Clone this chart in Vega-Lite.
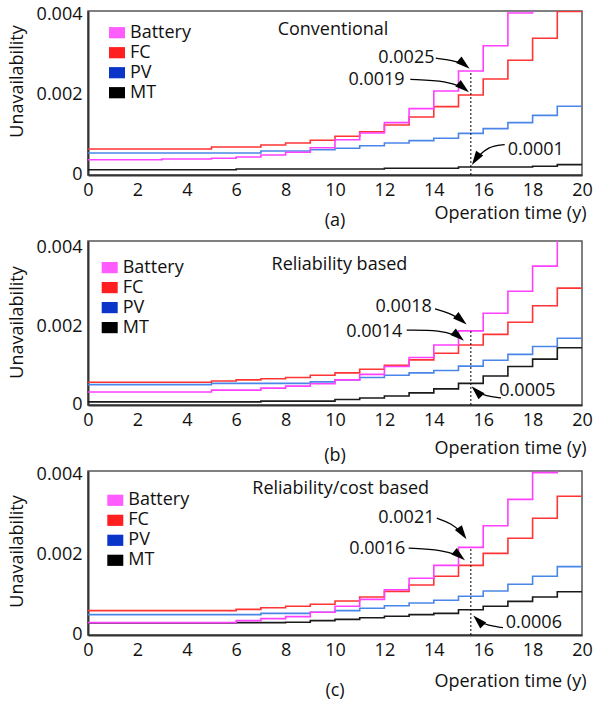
{
"$schema":"https://vega.github.io/schema/vega-lite/v6.json",
"padding":{"left":7,"top":4,"right":0,"bottom":0},
"background":"white",
"datasets":{
"series":[
{"p":"a","s":"MT","t":0,"u":0.00003},{"p":"a","s":"MT","t":6,"u":0.00005},{"p":"a","s":"MT","t":12,"u":0.00007},{"p":"a","s":"MT","t":15,"u":0.0001},{"p":"a","s":"MT","t":18,"u":0.00012},{"p":"a","s":"MT","t":19,"u":0.00016},{"p":"a","s":"MT","t":20,"u":0.00016},
{"p":"a","s":"PV","t":0,"u":0.00045},{"p":"a","s":"PV","t":7,"u":0.0005},{"p":"a","s":"PV","t":9,"u":0.00053},{"p":"a","s":"PV","t":10,"u":0.00057},{"p":"a","s":"PV","t":11,"u":0.00063},{"p":"a","s":"PV","t":12,"u":0.0007},{"p":"a","s":"PV","t":13,"u":0.00076},{"p":"a","s":"PV","t":14,"u":0.00082},{"p":"a","s":"PV","t":15,"u":0.00094},{"p":"a","s":"PV","t":16,"u":0.00106},{"p":"a","s":"PV","t":17,"u":0.00121},{"p":"a","s":"PV","t":18,"u":0.00139},{"p":"a","s":"PV","t":19,"u":0.00162},{"p":"a","s":"PV","t":20,"u":0.00162},
{"p":"a","s":"FC","t":0,"u":0.00055},{"p":"a","s":"FC","t":5,"u":0.0006},{"p":"a","s":"FC","t":7,"u":0.00065},{"p":"a","s":"FC","t":8,"u":0.0007},{"p":"a","s":"FC","t":9,"u":0.00077},{"p":"a","s":"FC","t":10,"u":0.00087},{"p":"a","s":"FC","t":11,"u":0.00098},{"p":"a","s":"FC","t":12,"u":0.00115},{"p":"a","s":"FC","t":13,"u":0.00135},{"p":"a","s":"FC","t":14,"u":0.00161},{"p":"a","s":"FC","t":15,"u":0.0019},{"p":"a","s":"FC","t":16,"u":0.0023},{"p":"a","s":"FC","t":17,"u":0.00277},{"p":"a","s":"FC","t":18,"u":0.00332},{"p":"a","s":"FC","t":19,"u":0.00399},{"p":"a","s":"FC","t":20,"u":0.00399},
{"p":"a","s":"Battery","t":0,"u":0.00028},{"p":"a","s":"Battery","t":3,"u":0.0003},{"p":"a","s":"Battery","t":5,"u":0.00032},{"p":"a","s":"Battery","t":6,"u":0.00035},{"p":"a","s":"Battery","t":7,"u":0.0004},{"p":"a","s":"Battery","t":8,"u":0.00047},{"p":"a","s":"Battery","t":9,"u":0.00058},{"p":"a","s":"Battery","t":10,"u":0.00078},{"p":"a","s":"Battery","t":11,"u":0.00095},{"p":"a","s":"Battery","t":12,"u":0.00121},{"p":"a","s":"Battery","t":13,"u":0.00156},{"p":"a","s":"Battery","t":14,"u":0.002},{"p":"a","s":"Battery","t":15,"u":0.0025},{"p":"a","s":"Battery","t":16,"u":0.00313},{"p":"a","s":"Battery","t":17,"u":0.00395},{"p":"a","s":"Battery","t":18,"u":0.0048},{"p":"a","s":"Battery","t":19,"u":0.0058},{"p":"a","s":"Battery","t":20,"u":0.0058},
{"p":"b","s":"MT","t":0,"u":0.0},{"p":"b","s":"MT","t":7,"u":0.00002},{"p":"b","s":"MT","t":10,"u":0.00006},{"p":"b","s":"MT","t":11,"u":0.0001},{"p":"b","s":"MT","t":12,"u":0.00015},{"p":"b","s":"MT","t":13,"u":0.00023},{"p":"b","s":"MT","t":14,"u":0.00033},{"p":"b","s":"MT","t":15,"u":0.00047},{"p":"b","s":"MT","t":16,"u":0.00066},{"p":"b","s":"MT","t":17,"u":0.0009},{"p":"b","s":"MT","t":18,"u":0.00109},{"p":"b","s":"MT","t":19,"u":0.00138},{"p":"b","s":"MT","t":20,"u":0.00138},
{"p":"b","s":"PV","t":0,"u":0.00044},{"p":"b","s":"PV","t":5,"u":0.00047},{"p":"b","s":"PV","t":9,"u":0.00051},{"p":"b","s":"PV","t":10,"u":0.00056},{"p":"b","s":"PV","t":11,"u":0.00062},{"p":"b","s":"PV","t":12,"u":0.00068},{"p":"b","s":"PV","t":13,"u":0.00074},{"p":"b","s":"PV","t":14,"u":0.0008},{"p":"b","s":"PV","t":15,"u":0.00091},{"p":"b","s":"PV","t":16,"u":0.00106},{"p":"b","s":"PV","t":17,"u":0.00121},{"p":"b","s":"PV","t":18,"u":0.00141},{"p":"b","s":"PV","t":19,"u":0.00162},{"p":"b","s":"PV","t":20,"u":0.00162},
{"p":"b","s":"FC","t":0,"u":0.0005},{"p":"b","s":"FC","t":5,"u":0.00053},{"p":"b","s":"FC","t":6,"u":0.00056},{"p":"b","s":"FC","t":7,"u":0.00059},{"p":"b","s":"FC","t":8,"u":0.00062},{"p":"b","s":"FC","t":9,"u":0.00068},{"p":"b","s":"FC","t":10,"u":0.00074},{"p":"b","s":"FC","t":11,"u":0.00083},{"p":"b","s":"FC","t":12,"u":0.00093},{"p":"b","s":"FC","t":13,"u":0.00107},{"p":"b","s":"FC","t":14,"u":0.00124},{"p":"b","s":"FC","t":15,"u":0.00145},{"p":"b","s":"FC","t":16,"u":0.00172},{"p":"b","s":"FC","t":17,"u":0.00203},{"p":"b","s":"FC","t":18,"u":0.00245},{"p":"b","s":"FC","t":19,"u":0.0029},{"p":"b","s":"FC","t":20,"u":0.0029},
{"p":"b","s":"Battery","t":0,"u":0.00025},{"p":"b","s":"Battery","t":5,"u":0.0003},{"p":"b","s":"Battery","t":7,"u":0.00035},{"p":"b","s":"Battery","t":8,"u":0.0004},{"p":"b","s":"Battery","t":9,"u":0.00046},{"p":"b","s":"Battery","t":10,"u":0.00056},{"p":"b","s":"Battery","t":11,"u":0.0007},{"p":"b","s":"Battery","t":12,"u":0.0009},{"p":"b","s":"Battery","t":13,"u":0.00113},{"p":"b","s":"Battery","t":14,"u":0.00145},{"p":"b","s":"Battery","t":15,"u":0.00181},{"p":"b","s":"Battery","t":16,"u":0.00226},{"p":"b","s":"Battery","t":17,"u":0.00282},{"p":"b","s":"Battery","t":18,"u":0.00346},{"p":"b","s":"Battery","t":19,"u":0.0045},{"p":"b","s":"Battery","t":20,"u":0.0045},
{"p":"c","s":"MT","t":0,"u":0.0002},{"p":"c","s":"MT","t":6,"u":0.00021},{"p":"c","s":"MT","t":8,"u":0.00022},{"p":"c","s":"MT","t":9,"u":0.00026},{"p":"c","s":"MT","t":10,"u":0.00029},{"p":"c","s":"MT","t":11,"u":0.00033},{"p":"c","s":"MT","t":12,"u":0.00037},{"p":"c","s":"MT","t":13,"u":0.00041},{"p":"c","s":"MT","t":14,"u":0.00044},{"p":"c","s":"MT","t":15,"u":0.00053},{"p":"c","s":"MT","t":16,"u":0.00062},{"p":"c","s":"MT","t":17,"u":0.00074},{"p":"c","s":"MT","t":18,"u":0.00085},{"p":"c","s":"MT","t":19,"u":0.00098},{"p":"c","s":"MT","t":20,"u":0.00098},
{"p":"c","s":"PV","t":0,"u":0.00041},{"p":"c","s":"PV","t":7,"u":0.00044},{"p":"c","s":"PV","t":9,"u":0.00047},{"p":"c","s":"PV","t":10,"u":0.00051},{"p":"c","s":"PV","t":11,"u":0.00057},{"p":"c","s":"PV","t":12,"u":0.00063},{"p":"c","s":"PV","t":13,"u":0.0007},{"p":"c","s":"PV","t":14,"u":0.00077},{"p":"c","s":"PV","t":15,"u":0.00087},{"p":"c","s":"PV","t":16,"u":0.001},{"p":"c","s":"PV","t":17,"u":0.00117},{"p":"c","s":"PV","t":18,"u":0.00137},{"p":"c","s":"PV","t":19,"u":0.00161},{"p":"c","s":"PV","t":20,"u":0.00161},
{"p":"c","s":"FC","t":0,"u":0.00051},{"p":"c","s":"FC","t":6,"u":0.00054},{"p":"c","s":"FC","t":7,"u":0.00058},{"p":"c","s":"FC","t":8,"u":0.00062},{"p":"c","s":"FC","t":9,"u":0.00067},{"p":"c","s":"FC","t":10,"u":0.00075},{"p":"c","s":"FC","t":11,"u":0.00085},{"p":"c","s":"FC","t":12,"u":0.00099},{"p":"c","s":"FC","t":13,"u":0.00115},{"p":"c","s":"FC","t":14,"u":0.00137},{"p":"c","s":"FC","t":15,"u":0.00164},{"p":"c","s":"FC","t":16,"u":0.00194},{"p":"c","s":"FC","t":17,"u":0.00232},{"p":"c","s":"FC","t":18,"u":0.00282},{"p":"c","s":"FC","t":19,"u":0.00337},{"p":"c","s":"FC","t":20,"u":0.00337},
{"p":"c","s":"Battery","t":0,"u":0.00021},{"p":"c","s":"Battery","t":6,"u":0.00026},{"p":"c","s":"Battery","t":7,"u":0.00031},{"p":"c","s":"Battery","t":8,"u":0.00036},{"p":"c","s":"Battery","t":9,"u":0.00047},{"p":"c","s":"Battery","t":10,"u":0.00062},{"p":"c","s":"Battery","t":11,"u":0.00079},{"p":"c","s":"Battery","t":12,"u":0.00103},{"p":"c","s":"Battery","t":13,"u":0.00132},{"p":"c","s":"Battery","t":14,"u":0.00164},{"p":"c","s":"Battery","t":15,"u":0.00209},{"p":"c","s":"Battery","t":16,"u":0.00263},{"p":"c","s":"Battery","t":17,"u":0.00329},{"p":"c","s":"Battery","t":18,"u":0.00396},{"p":"c","s":"Battery","t":19,"u":0.0048},{"p":"c","s":"Battery","t":20,"u":0.0048}
],
"guides":[
{"p":"a","t":15.5,"u":-0.0001,"u1":0.0025},
{"p":"b","t":15.5,"u":-0.00008,"u1":0.00181},
{"p":"c","t":15.5,"u":-0.0001,"u1":0.00209}
],
"arrows":[
{"p":"a","id":"a1","o":1,"t":14.08,"u":0.00282},{"p":"a","id":"a1","o":2,"t":14.76,"u":0.00277},{"p":"a","id":"a1","o":3,"t":15.23,"u":0.00267},
{"p":"a","id":"a2","o":1,"t":13.05,"u":0.00229},{"p":"a","id":"a2","o":2,"t":14.56,"u":0.00225},{"p":"a","id":"a2","o":3,"t":15.2,"u":0.00208},
{"p":"a","id":"a3","o":1,"t":16.87,"u":0.00066},{"p":"a","id":"a3","o":2,"t":16.2,"u":0.00062},{"p":"a","id":"a3","o":3,"t":15.7,"u":0.0003},
{"p":"b","id":"b1","o":1,"t":14.05,"u":0.00237},{"p":"b","id":"b1","o":2,"t":14.66,"u":0.00226},{"p":"b","id":"b1","o":3,"t":15.11,"u":0.00209},
{"p":"b","id":"b2","o":1,"t":12.9,"u":0.00183},{"p":"b","id":"b2","o":2,"t":14.27,"u":0.00183},{"p":"b","id":"b2","o":3,"t":15.0,"u":0.00167},
{"p":"b","id":"b3","o":1,"t":16.72,"u":0.0001},{"p":"b","id":"b3","o":2,"t":16.1,"u":0.00015},{"p":"b","id":"b3","o":3,"t":15.73,"u":0.00027},
{"p":"c","id":"c1","o":1,"t":14.12,"u":0.00282},{"p":"c","id":"c1","o":2,"t":14.73,"u":0.00269},{"p":"c","id":"c1","o":3,"t":15.16,"u":0.00244},
{"p":"c","id":"c2","o":1,"t":12.98,"u":0.00207},{"p":"c","id":"c2","o":2,"t":14.35,"u":0.00203},{"p":"c","id":"c2","o":3,"t":15.04,"u":0.00188},
{"p":"c","id":"c3","o":1,"t":16.8,"u":0.000085},{"p":"c","id":"c3","o":2,"t":16.18,"u":0.00013},{"p":"c","id":"c3","o":3,"t":15.8,"u":0.00026}
],
"notes":[
{"p":"a","label":"Conventional","t":9.92,"u":0.00352},
{"p":"a","label":"0.0025","t":12.89,"u":0.00283},
{"p":"a","label":"0.0019","t":11.68,"u":0.00227},
{"p":"a","label":"0.0001","t":18.13,"u":0.00052},
{"p":"b","label":"Reliability based","t":10.18,"u":0.00348},
{"p":"b","label":"0.0018","t":12.78,"u":0.00241},
{"p":"b","label":"0.0014","t":11.59,"u":0.00177},
{"p":"b","label":"0.0005","t":17.79,"u":0.00027},
{"p":"c","label":"Reliability/cost based","t":10.23,"u":0.00355},
{"p":"c","label":"0.0021","t":12.89,"u":0.00282},
{"p":"c","label":"0.0016","t":11.71,"u":0.00205},
{"p":"c","label":"0.0006","t":18.05,"u":0.00021}
]
},
"vconcat":[
{"width":494,"height":164,
"title":{"text":"(a)","orient":"bottom","anchor":"middle","offset":-10},
"encoding":{
"x":{"field":"t","type":"quantitative","scale":{"domain":[0,20],"nice":false,"zero":false},"axis":{"values":[0,2,4,6,8,10,12,14,16,18,20],"title":"Operation time (y)","titleX":498,"titleY":38,"titleAlign":"right","titleBaseline":"middle"}},
"y":{"field":"u","type":"quantitative","scale":{"domain":[-0.0001,0.004],"nice":false,"zero":false},"axis":{"values":[0,0.002,0.004],"labelExpr":"datum.value === 0 ? '0' : format(datum.value, '.3f')","title":"Unavailability","titleX":-71,"titleY":70,"titleAlign":"center","titleBaseline":"middle"}}
},
"layer":[
{"data":{"name":"series"},"transform":[{"filter":"datum.p==='a'"}],
"mark":{"type":"line","interpolate":"step-after","clip":true,"strokeWidth":1.6},
"encoding":{
"color":{"field":"s","type":"nominal","scale":{"domain":["Battery","FC","PV","MT"],"range":["#ff40ff","#ff3535","#4a86e8","#1a1a1a"]},
"legend":{"orient":"none","legendX":20,"legendY":12.7,"title":null,"symbolType":"M-1,-0.7H1V0.7H-1Z","symbolSize":256,"encode":{"symbols":{"update":{"fill":{"signal":"datum.value === 'Battery' ? '#ff5cff' : datum.value === 'FC' ? '#ff1f1f' : datum.value === 'PV' ? '#0a35c8' : '#000000'"},"strokeWidth":{"value":0},"opacity":{"value":1}}}}}}
}},
{"data":{"name":"guides"},"transform":[{"filter":"datum.p==='a'"}],"mark":{"type":"rule","strokeDash":[2,2],"strokeWidth":1,"color":"#000"},
"encoding":{"y2":{"field":"u1"}}},
{"data":{"name":"arrows"},"transform":[{"filter":"datum.p==='a'"}],"mark":{"type":"line","interpolate":"basis","color":"#000","strokeWidth":1.3},
"encoding":{"detail":{"field":"id"},"order":{"field":"o"}}},
{"data":{"name":"arrows"},"transform":[{"filter":"datum.p==='a' && datum.o===3"}],"mark":{"type":"point","filled":true,"color":"#000","size":200,"opacity":1,"strokeWidth":0},
"encoding":{"shape":{"field":"id","type":"nominal","legend":null,"scale":{"domain":["a1","a2","a3","b1","b2","b3","c1","c2","c3"],"range":["M0.77,0.64L-1.15,-0.18L-0.38,-1.1Z","M0.77,0.64L-1.15,-0.18L-0.38,-1.1Z","M-0.55,0.84L0.04,-1.17L1.05,-0.51Z","M0.77,0.64L-1.15,-0.18L-0.38,-1.1Z","M0.77,0.64L-1.15,-0.18L-0.38,-1.1Z","M-0.71,-0.71L1.13,0.28L0.28,1.13Z","M0.57,0.82L-1.07,-0.48L-0.08,-1.16Z","M0.77,0.64L-1.15,-0.18L-0.38,-1.1Z","M-0.71,-0.71L1.13,0.28L0.28,1.13Z"]}}}},
{"data":{"name":"notes"},"transform":[{"filter":"datum.p==='a'"}],"mark":{"type":"text","fontSize":18,"align":"center","baseline":"middle","color":"#111"},
"encoding":{"text":{"field":"label"}}}
]},
{"width":494,"height":164,
"title":{"text":"(b)","orient":"bottom","anchor":"middle","offset":-10},
"encoding":{
"x":{"field":"t","type":"quantitative","scale":{"domain":[0,20],"nice":false,"zero":false},"axis":{"values":[0,2,4,6,8,10,12,14,16,18,20],"title":"Operation time (y)","titleX":498,"titleY":43,"titleAlign":"right","titleBaseline":"middle"}},
"y":{"field":"u","type":"quantitative","scale":{"domain":[-0.00008,0.0041],"nice":false,"zero":false},"axis":{"values":[0,0.002,0.004],"labelExpr":"datum.value === 0 ? '0' : format(datum.value, '.3f')","title":"Unavailability","titleX":-71,"titleY":81,"titleAlign":"center","titleBaseline":"middle"}}
},
"layer":[
{"data":{"name":"series"},"transform":[{"filter":"datum.p==='b'"}],
"mark":{"type":"line","interpolate":"step-after","clip":true,"strokeWidth":1.6},
"encoding":{
"color":{"field":"s","type":"nominal","scale":{"domain":["Battery","FC","PV","MT"],"range":["#ff40ff","#ff3535","#4a86e8","#1a1a1a"]},
"legend":{"orient":"none","legendX":12.7,"legendY":17.6,"title":null,"symbolType":"M-1,-0.7H1V0.7H-1Z","symbolSize":256,"encode":{"symbols":{"update":{"fill":{"signal":"datum.value === 'Battery' ? '#ff5cff' : datum.value === 'FC' ? '#ff1f1f' : datum.value === 'PV' ? '#0a35c8' : '#000000'"},"strokeWidth":{"value":0},"opacity":{"value":1}}}}}}
}},
{"data":{"name":"guides"},"transform":[{"filter":"datum.p==='b'"}],"mark":{"type":"rule","strokeDash":[2,2],"strokeWidth":1,"color":"#000"},
"encoding":{"y2":{"field":"u1"}}},
{"data":{"name":"arrows"},"transform":[{"filter":"datum.p==='b'"}],"mark":{"type":"line","interpolate":"basis","color":"#000","strokeWidth":1.3},
"encoding":{"detail":{"field":"id"},"order":{"field":"o"}}},
{"data":{"name":"arrows"},"transform":[{"filter":"datum.p==='b' && datum.o===3"}],"mark":{"type":"point","filled":true,"color":"#000","size":200,"opacity":1,"strokeWidth":0},
"encoding":{"shape":{"field":"id","type":"nominal","legend":null,"scale":{"domain":["a1","a2","a3","b1","b2","b3","c1","c2","c3"],"range":["M0.77,0.64L-1.15,-0.18L-0.38,-1.1Z","M0.77,0.64L-1.15,-0.18L-0.38,-1.1Z","M-0.55,0.84L0.04,-1.17L1.05,-0.51Z","M0.77,0.64L-1.15,-0.18L-0.38,-1.1Z","M0.77,0.64L-1.15,-0.18L-0.38,-1.1Z","M-0.71,-0.71L1.13,0.28L0.28,1.13Z","M0.57,0.82L-1.07,-0.48L-0.08,-1.16Z","M0.77,0.64L-1.15,-0.18L-0.38,-1.1Z","M-0.71,-0.71L1.13,0.28L0.28,1.13Z"]}}}},
{"data":{"name":"notes"},"transform":[{"filter":"datum.p==='b'"}],"mark":{"type":"text","fontSize":18,"align":"center","baseline":"middle","color":"#111"},
"encoding":{"text":{"field":"label"}}}
]},
{"width":494,"height":164,
"title":{"text":"(c)","orient":"bottom","anchor":"middle","offset":-8},
"encoding":{
"x":{"field":"t","type":"quantitative","scale":{"domain":[0,20],"nice":false,"zero":false},"axis":{"values":[0,2,4,6,8,10,12,14,16,18,20],"title":"Operation time (y)","titleX":498,"titleY":46,"titleAlign":"right","titleBaseline":"middle"}},
"y":{"field":"u","type":"quantitative","scale":{"domain":[-0.0001,0.004],"nice":false,"zero":false},"axis":{"values":[0,0.002,0.004],"labelExpr":"datum.value === 0 ? '0' : format(datum.value, '.3f')","title":"Unavailability","titleX":-71,"titleY":80,"titleAlign":"center","titleBaseline":"middle"}}
},
"layer":[
{"data":{"name":"series"},"transform":[{"filter":"datum.p==='c'"}],
"mark":{"type":"line","interpolate":"step-after","clip":true,"strokeWidth":1.6},
"encoding":{
"color":{"field":"s","type":"nominal","scale":{"domain":["Battery","FC","PV","MT"],"range":["#ff40ff","#ff3535","#4a86e8","#1a1a1a"]},
"legend":{"orient":"none","legendX":18.3,"legendY":20.3,"title":null,"symbolType":"M-1,-0.7H1V0.7H-1Z","symbolSize":256,"encode":{"symbols":{"update":{"fill":{"signal":"datum.value === 'Battery' ? '#ff5cff' : datum.value === 'FC' ? '#ff1f1f' : datum.value === 'PV' ? '#0a35c8' : '#000000'"},"strokeWidth":{"value":0},"opacity":{"value":1}}}}}}
}},
{"data":{"name":"guides"},"transform":[{"filter":"datum.p==='c'"}],"mark":{"type":"rule","strokeDash":[2,2],"strokeWidth":1,"color":"#000"},
"encoding":{"y2":{"field":"u1"}}},
{"data":{"name":"arrows"},"transform":[{"filter":"datum.p==='c'"}],"mark":{"type":"line","interpolate":"basis","color":"#000","strokeWidth":1.3},
"encoding":{"detail":{"field":"id"},"order":{"field":"o"}}},
{"data":{"name":"arrows"},"transform":[{"filter":"datum.p==='c' && datum.o===3"}],"mark":{"type":"point","filled":true,"color":"#000","size":200,"opacity":1,"strokeWidth":0},
"encoding":{"shape":{"field":"id","type":"nominal","legend":null,"scale":{"domain":["a1","a2","a3","b1","b2","b3","c1","c2","c3"],"range":["M0.77,0.64L-1.15,-0.18L-0.38,-1.1Z","M0.77,0.64L-1.15,-0.18L-0.38,-1.1Z","M-0.55,0.84L0.04,-1.17L1.05,-0.51Z","M0.77,0.64L-1.15,-0.18L-0.38,-1.1Z","M0.77,0.64L-1.15,-0.18L-0.38,-1.1Z","M-0.71,-0.71L1.13,0.28L0.28,1.13Z","M0.57,0.82L-1.07,-0.48L-0.08,-1.16Z","M0.77,0.64L-1.15,-0.18L-0.38,-1.1Z","M-0.71,-0.71L1.13,0.28L0.28,1.13Z"]}}}},
{"data":{"name":"notes"},"transform":[{"filter":"datum.p==='c'"}],"mark":{"type":"text","fontSize":18,"align":"center","baseline":"middle","color":"#111"},
"encoding":{"text":{"field":"label"}}}
]}
],
"spacing":66,
"bounds":"flush",
"resolve":{"legend":{"color":"independent"},"scale":{"y":"independent"}},
"config":{
"font":"Open Sans",
"view":{"stroke":"#555","strokeWidth":1.5},
"axis":{"labelFontSize":18,"titleFontSize":18,"labelColor":"#111","titleColor":"#111","titleFontWeight":"normal","domainColor":"#333","domainWidth":2,"ticks":false,"grid":false,"labelPadding":6,"labelFlush":false},
"axisY":{"labelOffset":3},
"legend":{"labelFontSize":18,"labelColor":"#111","symbolStrokeWidth":0,"rowPadding":2,"labelOffset":4,"padding":0},
"title":{"fontSize":18,"fontWeight":"normal","color":"#111","font":"Open Sans"}
}
}
